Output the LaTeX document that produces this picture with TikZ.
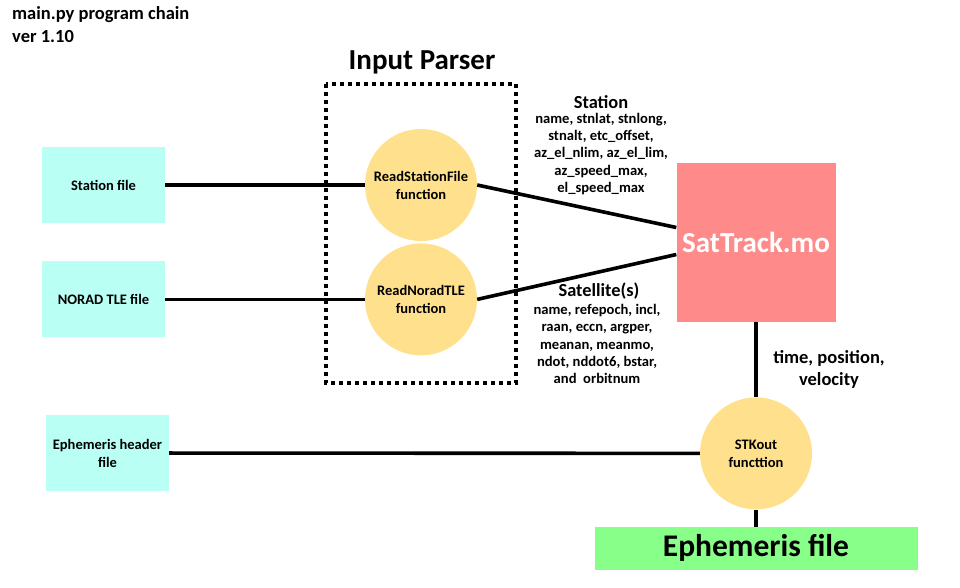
\documentclass[tikz,border=0pt]{standalone}
\usepackage{fontspec}
\setmainfont{Carlito}
\usepackage{tikz}
\usetikzlibrary{positioning}

\definecolor{filecyan}{HTML}{B9FFF4}
\definecolor{funcyellow}{HTML}{FFE08C}
\definecolor{mainred}{HTML}{FF8A8A}
\definecolor{outgreen}{HTML}{88FF88}

\begin{document}
\begin{tikzpicture}[
    x=1pt, y=-1pt,
    font=\bfseries,
    filebox/.style={rectangle, fill=filecyan, minimum width=123pt, minimum height=76pt, align=center, inner sep=2pt, font=\bfseries\fontsize{14.5}{18}\selectfont},
    func/.style={circle, fill=funcyellow, minimum size=112pt, inner sep=0pt, align=center, font=\bfseries\fontsize{14.5}{18}\selectfont},
    params/.style={align=center, inner sep=0pt, font=\bfseries\fontsize{14.6}{17.3}\selectfont},
    heading/.style={inner sep=0pt, font=\bfseries\fontsize{18.4}{20}\selectfont},
    link/.style={line width=3.6pt}
]
\useasboundingbox (0,0) rectangle (960,587);

% title
\node[anchor=north west, align=left, inner sep=0pt, font=\bfseries\fontsize{18.5}{23}\selectfont] (title) at (12,6) {main.py program chain\\ver 1.10};

% input files
\node[filebox] (stationfile) at (103.5,185) {Station file};
\node[filebox, below=38pt of stationfile] (noradfile) {NORAD TLE file};
\node[filebox] (ephheader) at (107.5,453) {Ephemeris header\\file};

% parser functions
\node[func] (readstation) at (421,185) {ReadStationFile\\function};
\node[func, below=2pt of readstation] (readnorad) {ReadNoradTLE\\function};
\draw[line width=4pt, dash pattern=on 4pt off 4pt] (326,84) rectangle (516,383);
\node[inner sep=0pt, font=\bfseries\fontsize{29}{34}\selectfont] (parser) at (422,62) {Input Parser};

% main program
\node[rectangle, fill=mainred, minimum width=159pt, minimum height=159pt, text=white, font=\bfseries\fontsize{29}{34}\selectfont] (sattrack) at (756,242.5) {SatTrack.mo};
\node[func, below=75pt of sattrack] (stkout) {STKout\\functtion};
\node[rectangle, fill=outgreen, minimum width=323pt, minimum height=43pt, font=\bfseries\fontsize{31.5}{36}\selectfont, below=17pt of stkout] (ephfile) {Ephemeris file};

% data labels
\node[heading] (stationhd) at (601,102) {Station};
\node[params] (stationpar) at (601,154) {name, stnlat, stnlong,\\stnalt, etc\_offset,\\az\_el\_nlim, az\_el\_lim,\\az\_speed\_max,\\el\_speed\_max};
\node[heading] (sathd) at (599,291) {Satellite(s)};
\node[params] (satpar) at (597,344) {name, refepoch, incl,\\raan, eccn, argper,\\meanan, meanmo,\\ndot, nddot6, bstar,\\and~ orbitnum};
\node[align=center, inner sep=0pt, font=\bfseries\fontsize{18.5}{22}\selectfont] (outlbl) at (829,369) {time, position,\\velocity};

% connectors
\draw[link] (stationfile) -- (readstation);
\draw[link] (noradfile) -- (readnorad);
\draw[link] (ephheader) -- (stkout);
\draw[link] (readstation.east) -- ([yshift=15pt]sattrack.west);
\draw[link] (readnorad.east) -- ([yshift=-12pt]sattrack.west);
\draw[link] (sattrack) -- (stkout);
\draw[link] (stkout) -- (ephfile);
\end{tikzpicture}
\end{document}
